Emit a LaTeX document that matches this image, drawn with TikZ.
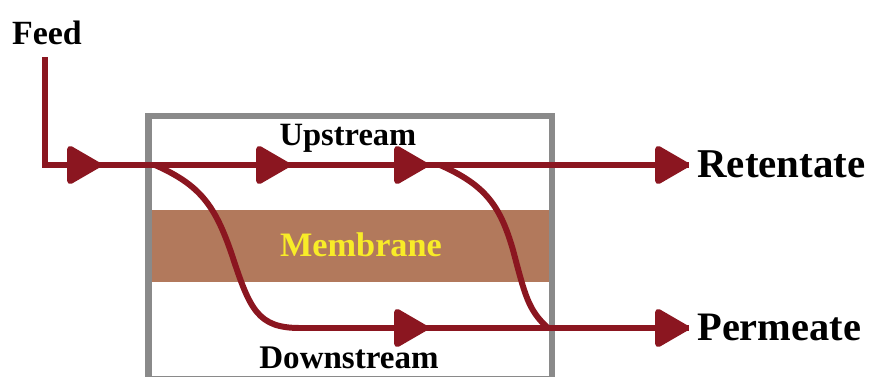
\documentclass[tikz,border=0pt]{standalone}
\usepackage{fontspec}
\setmainfont{Liberation Serif}
\usetikzlibrary{arrows.meta}
\definecolor{flowred}{RGB}{139,22,32}
\definecolor{boxgray}{RGB}{138,138,138}
\definecolor{membrown}{RGB}{178,121,92}
\definecolor{memyellow}{RGB}{248,236,40}
\tikzset{
  flow/.style={draw=flowred, line width=3.4pt},
  tipped/.style={flow, -{Triangle[length=0.74cm,width=0.82cm,round]}},
  lbl/.style={font=\bfseries, text=black, inner sep=0pt},
}
\begin{document}
\begin{tikzpicture}[x=0.02cm,y=-0.02cm]
\useasboundingbox (0,0) rectangle (873,376);
% membrane band
\fill[membrown] (151,210) rectangle (549,282);
\node[lbl, text=memyellow, font=\bfseries\fontsize{19.5}{22}\selectfont, anchor=base] (mem) at (361,256) {Membrane};
% box
\draw[boxgray, line width=3.6pt] (148.5,116) rectangle (552,379);
% coordinates
\coordinate (feedtop) at (45,57);
\coordinate (corner) at (45,165);
\coordinate (a1) at (101,165);
\coordinate (split1) at (155,165);
\coordinate (a2) at (290,165);
\coordinate (a3) at (428,165);
\coordinate (split2) at (440,165);
\coordinate (rtip) at (689,165);
\coordinate (low) at (300,328);
\coordinate (a4) at (428,328);
\coordinate (join) at (548,328);
\coordinate (ptip) at (689,328);
% main upper line
\draw[flow] (feedtop) -- (corner) -- (rtip);
\draw[tipped] (corner) -- (a1);
\draw[tipped] (split1) -- (a2);
\draw[tipped] (a2) -- (a3);
\draw[tipped] (split2) -- (rtip);
% left curve
\draw[flow] (split1) .. controls (200,185) and (215,205) .. (232,255)
  .. controls (250,310) and (258,328) .. (low);
\draw[flow] (low) -- (ptip);
\draw[tipped] (low) -- (a4);
\draw[tipped] (join) -- (ptip);
% right curve
\draw[flow, line join=miter] (split2) .. controls (485,185) and (500,205) .. (513,250)
  .. controls (525,295) and (528,310) .. (join) -- (500,328);
% labels
\node[lbl, font=\bfseries\fontsize{19.3}{22}\selectfont, anchor=base] (feed) at (47,44) {Feed};
\node[lbl, font=\bfseries\fontsize{18.5}{22}\selectfont, anchor=base] (up) at (348,145) {Upstream};
\node[lbl, font=\bfseries\fontsize{18.8}{22}\selectfont, anchor=base] (down) at (349,368) {Downstream};
\node[lbl, font=\bfseries\fontsize{23.3}{26}\selectfont, anchor=base west] (ret) at (697,177) {Retentate};
\node[lbl, font=\bfseries\fontsize{23}{26}\selectfont, anchor=base west] (perm) at (697,340) {Permeate};
\end{tikzpicture}
\end{document}
